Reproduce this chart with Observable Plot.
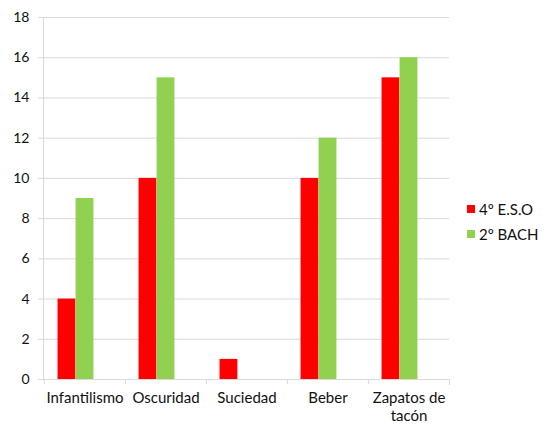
<!DOCTYPE html>
<html>
<head>
<meta charset="utf-8">
<script src="https://cdn.jsdelivr.net/npm/d3@7"></script>
<script src="https://cdn.jsdelivr.net/npm/@observablehq/plot@0.6"></script>
<style>
  html, body { margin: 0; padding: 0; background: #fff; }
  #wrap { position: relative; width: 554px; height: 426px; font-family: Lato, "Open Sans", sans-serif; }
  #legend { position: absolute; left: 467px; top: 196px; font-size: 15px; color: #111; }
  #legend .item { display: flex; align-items: center; height: 25px; }
  #legend .sw { width: 8px; height: 8px; margin-right: 4px; }
</style>
</head>
<body>
<div id="wrap"><div id="legend"></div></div>
<script>
const categories = ["Infantilismo", "Oscuridad", "Suciedad", "Beber", "Zapatos de tacón"];
const tickLabels = ["Infantilismo", "Oscuridad", "Suciedad", "Beber", "Zapatos de\ntacón"];
const seriesNames = ["4º E.S.O", "2º BACH"];
const eso = [4, 10, 1, 10, 15];
const bach = [9, 15, 0, 12, 16];
const yTicks = [0, 2, 4, 6, 8, 10, 12, 14, 16, 18];
const colors = ["#ff0000", "#92d050"];

const rows = categories.flatMap((c, i) => [
  {category: c, series: seriesNames[0], value: eso[i]},
  {category: c, series: seriesNames[1], value: bach[i]}
]);

const W = 554, H = 426;
const mL = 43, mR = 105, mT = 17, mB = 47;
const plotH = H - mT - mB;
const step = (W - mL - mR) / categories.length;
const barW = step / 4.5;
const gap = barW * 0.75;
const grid = "#d9d9d9";

const chart = Plot.plot({
  width: W,
  height: H,
  marginLeft: mL,
  marginRight: mR,
  marginTop: mT,
  marginBottom: mB,
  style: {fontFamily: "Lato, 'Open Sans', sans-serif", fontSize: "14px", color: "#111", background: "#fff"},
  x: {domain: categories, padding: 0, label: null},
  y: {domain: [0, 18], label: null},
  color: {domain: seriesNames, range: colors},
  marks: [
    Plot.gridY(yTicks, {stroke: grid, strokeOpacity: 1}),
    Plot.frame({anchor: "left", stroke: grid, strokeOpacity: 1}),
    Plot.axisX({tickSize: 5, tickFormat: () => "", stroke: grid, dx: -step / 2}),
    Plot.frame({anchor: "right", stroke: grid, strokeOpacity: 1, insetTop: plotH, insetBottom: -5}),
    Plot.axisX({tickSize: 0, tickPadding: 11, fontSize: 15, lineHeight: 1.2,
      tickFormat: (d) => tickLabels[categories.indexOf(d)]}),
    Plot.axisY({ticks: yTicks, tickSize: 5, tickPadding: 9, stroke: grid, fontSize: 14, tickFormat: d => d}),
    Plot.barY(rows.filter(d => d.series === seriesNames[0]),
      {x: "category", y: "value", fill: "series", insetLeft: gap, insetRight: step - gap - barW}),
    Plot.barY(rows.filter(d => d.series === seriesNames[1]),
      {x: "category", y: "value", fill: "series", insetLeft: gap + barW, insetRight: step - gap - 2 * barW}),
    Plot.ruleY([0], {stroke: grid})
  ]
});
document.getElementById("wrap").prepend(chart);

const legend = document.getElementById("legend");
seriesNames.forEach((s, i) => {
  const item = document.createElement("div");
  item.className = "item";
  const sw = document.createElement("div");
  sw.className = "sw";
  sw.style.background = colors[i];
  const t = document.createElement("span");
  t.textContent = s;
  item.append(sw, t);
  legend.append(item);
});
</script>
</body>
</html>
